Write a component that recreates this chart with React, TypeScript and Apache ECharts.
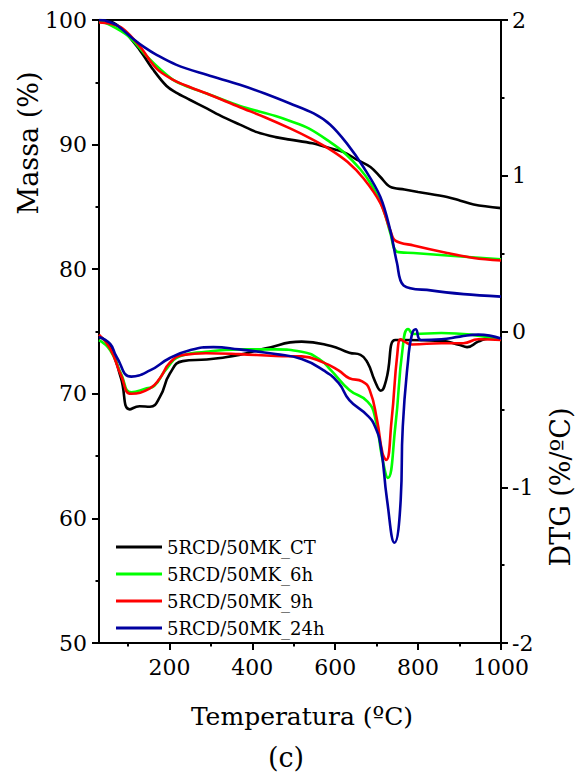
import React, { useEffect, useRef } from "react";
import * as echarts from "echarts";

// ---- Mass (TG) curves, left axis (%) ----
const T_MASS_CT = [30, 57, 88, 128, 161, 193, 215, 249, 290, 330, 370, 411, 456, 491, 545, 588, 620, 652, 685, 709, 733, 767, 800, 870, 902, 934, 1000];
const MASS_CT = [100, 99.9, 99.2, 97.6, 96.0, 94.7, 94.2, 93.6, 92.9, 92.2, 91.6, 91.0, 90.6, 90.4, 90.1, 89.7, 89.4, 88.8, 88.2, 87.4, 86.6, 86.4, 86.2, 85.8, 85.5, 85.2, 84.9];

const T_MASS_6H = [30, 57, 101, 145, 181, 209, 240, 290, 370, 456, 491, 536, 588, 620, 661, 687, 709, 723, 733, 749, 789, 870, 1000];
const MASS_6H = [99.9, 99.6, 98.7, 97.1, 95.95, 95.2, 94.7, 94.1, 93.1, 92.3, 91.9, 91.3, 90.2, 89.4, 88.0, 86.8, 85.4, 84.1, 82.9, 81.4, 81.3, 81.1, 80.8];

const T_MASS_9H = [30, 57, 88, 128, 169, 209, 250, 290, 370, 430, 491, 540, 588, 630, 668, 709, 733, 745, 789, 870, 934, 1000];
const MASS_9H = [99.8, 99.7, 99.3, 97.9, 96.1, 95.2, 94.6, 94.1, 93.0, 92.2, 91.3, 90.5, 89.6, 88.6, 87.3, 85.3, 83.1, 82.3, 81.9, 81.3, 80.9, 80.7];

const T_MASS_24H = [30, 45, 72, 112, 140, 169, 217, 290, 370, 430, 491, 548, 588, 628, 668, 709, 733, 749, 765, 830, 910, 1000];
const MASS_24H = [100, 99.95, 99.6, 98.5, 97.8, 97.2, 96.4, 95.6, 94.8, 94.1, 93.3, 92.5, 91.6, 90.1, 88.2, 85.8, 83.1, 80.5, 78.7, 78.3, 78.0, 77.8];

// ---- DTG curves, right axis (%/ºC) ----
const T_DTG_CT = [30, 57, 83, 104, 128, 153, 177, 201, 232, 290, 323, 368, 430, 519, 590, 634, 661, 678, 696, 710, 723, 745, 767, 856, 901, 918, 945, 972, 1000];
const DTG_CT = [-0.03, -0.10, -0.30, -0.50, -0.48, -0.483, -0.42, -0.27, -0.19, -0.18, -0.17, -0.15, -0.11, -0.065, -0.093, -0.136, -0.15, -0.20, -0.32, -0.38, -0.31, -0.055, -0.055, -0.06, -0.087, -0.10, -0.065, -0.044, -0.05];

const T_DTG_6H = [30, 57, 83, 108, 145, 163, 190, 225, 288, 368, 456, 519, 563, 590, 634, 678, 696, 714, 727, 745, 763, 776, 790, 856, 927, 1000];
const DTG_6H = [-0.055, -0.12, -0.27, -0.39, -0.365, -0.35, -0.25, -0.16, -0.13, -0.115, -0.115, -0.13, -0.18, -0.25, -0.375, -0.45, -0.55, -0.82, -0.94, -0.61, -0.10, 0.016, -0.016, -0.01, -0.02, -0.055];

const T_DTG_9H = [30, 57, 83, 108, 153, 177, 201, 234, 288, 368, 456, 519, 572, 608, 634, 665, 683, 701, 714, 723, 736, 750, 758, 767, 785, 856, 909, 945, 1000];
const DTG_9H = [-0.02, -0.11, -0.28, -0.40, -0.365, -0.30, -0.20, -0.15, -0.14, -0.145, -0.157, -0.16, -0.20, -0.25, -0.30, -0.32, -0.375, -0.57, -0.78, -0.825, -0.57, -0.14, -0.05, -0.065, -0.083, -0.075, -0.075, -0.05, -0.055];

const T_DTG_24H = [30, 57, 72, 108, 153, 201, 249, 306, 368, 456, 519, 572, 608, 634, 678, 696, 710, 725, 743, 758, 763, 776, 785, 794, 807, 856, 901, 945, 1000];
const DTG_24H = [-0.035, -0.08, -0.16, -0.29, -0.25, -0.17, -0.12, -0.10, -0.115, -0.145, -0.177, -0.25, -0.33, -0.44, -0.54, -0.61, -0.74, -1.08, -1.356, -1.08, -0.61, -0.18, -0.02, 0.014, -0.055, -0.05, -0.033, -0.02, -0.045];

const NAMES = ["5RCD/50MK_CT", "5RCD/50MK_6h", "5RCD/50MK_9h", "5RCD/50MK_24h"];
const COLORS = ["#000000", "#00ff00", "#ff0000", "#0000a0"];
const X_MAJOR = [200, 400, 600, 800, 1000];
const X_MINOR = [100, 300, 500, 700, 900];

const FONT = "DejaVu Serif";

function zip(t: number[], v: number[]) {
  return t.map((x, i) => [x, v[i]]);
}

export default function App() {
  const ref = useRef<HTMLDivElement>(null);
  useEffect(() => {
    if (!ref.current) return;
    const chart = echarts.init(ref.current, undefined, { renderer: "svg" });
    const massSets = [
      zip(T_MASS_CT, MASS_CT),
      zip(T_MASS_6H, MASS_6H),
      zip(T_MASS_9H, MASS_9H),
      zip(T_MASS_24H, MASS_24H),
    ];
    const dtgSets = [
      zip(T_DTG_CT, DTG_CT),
      zip(T_DTG_6H, DTG_6H),
      zip(T_DTG_9H, DTG_9H),
      zip(T_DTG_24H, DTG_24H),
    ];
    const series: any[] = [];
    const mk = (n: string, i: number, data: number[][], yi: number, sm: number) => ({
      name: n,
      type: "line",
      xAxisIndex: 0,
      yAxisIndex: yi,
      data,
      showSymbol: false,
      smooth: sm,
      lineStyle: { color: COLORS[i], width: 2.6 },
      itemStyle: { color: COLORS[i] },
      z: 2 + i,
    });
    NAMES.forEach((n, i) => series.push(mk(n, i, massSets[i], 0, 0.35)));
    NAMES.forEach((n, i) => series.push(mk(n, i, dtgSets[i], 1, 0.5)));

    const axisLineStyle = { color: "#000", width: 2 };
    const labelStyle = { color: "#000", fontFamily: FONT, fontSize: 22 };
    const fmt = (v: number) => String(v);
    const title = (text: string, x: number, y: number, size: number, rot = 0) => ({
      type: "text",
      x,
      y,
      rotation: rot,
      style: {
        text,
        fontFamily: FONT,
        fontSize: size,
        fill: "#000",
        textAlign: "center",
        textVerticalAlign: "middle",
      },
    });

    chart.setOption({
      animation: false,
      backgroundColor: "#fff",
      grid: {
        left: 99,
        right: 74,
        top: 20,
        bottom: 130,
        show: true,
        borderColor: "#000",
        borderWidth: 2,
        backgroundColor: "transparent",
      },
      legend: {
        data: NAMES,
        orient: "vertical",
        left: 111,
        top: 533,
        icon: "rect",
        itemWidth: 46,
        itemHeight: 3,
        itemGap: 9,
        textStyle: { color: "#000", fontFamily: FONT, fontSize: 18 },
        selectedMode: false,
      },
      xAxis: [
        {
          type: "value",
          min: 30,
          max: 1000,
          position: "bottom",
          axisLine: { show: true, onZero: false, lineStyle: axisLineStyle },
          axisTick: { show: true, inside: false, length: 7, customValues: X_MAJOR, lineStyle: { width: 2, color: "#000" } },
          axisLabel: { ...labelStyle, margin: 13, customValues: X_MAJOR, formatter: fmt },
          splitLine: { show: false },
        },
        {
          type: "value",
          min: 30,
          max: 1000,
          position: "bottom",
          axisLine: { show: false, onZero: false },
          axisTick: { show: true, inside: false, length: 3.5, customValues: X_MINOR, lineStyle: { width: 2, color: "#000" } },
          axisLabel: { show: false },
          splitLine: { show: false },
        },
      ],
      yAxis: [
        {
          type: "value",
          min: 50,
          max: 100,
          interval: 10,
          position: "left",
          axisLine: { show: true, onZero: false, lineStyle: axisLineStyle },
          axisTick: { show: true, length: 7, lineStyle: { width: 2, color: "#000" } },
          minorTick: { show: true, splitNumber: 2, length: 3.5, lineStyle: { width: 2, color: "#000" } },
          axisLabel: { ...labelStyle, margin: 12, formatter: fmt },
          splitLine: { show: false },
          minorSplitLine: { show: false },
        },
        {
          type: "value",
          min: -2,
          max: 2,
          interval: 1,
          position: "right",
          axisLine: { show: true, onZero: false, lineStyle: axisLineStyle },
          axisTick: { show: true, length: 7, lineStyle: { width: 2, color: "#000" } },
          minorTick: { show: true, splitNumber: 2, length: 3.5, lineStyle: { width: 2, color: "#000" } },
          axisLabel: { ...labelStyle, margin: 11, formatter: fmt },
          splitLine: { show: false },
          minorSplitLine: { show: false },
        },
      ],
      graphic: [
        title("Massa (%)", 28, 143, 27, Math.PI / 2),
        title("DTG (%/ºC)", 560, 487, 27, Math.PI / 2),
        title("Temperatura (ºC)", 302, 716, 25),
        title("(c)", 286, 757, 27),
      ],
      series,
    });
    return () => chart.dispose();
  }, []);
  return (
    <div
      ref={ref}
      style={{ position: "fixed", left: 0, top: 0, width: 575, height: 773, background: "#fff" }}
    />
  );
}
